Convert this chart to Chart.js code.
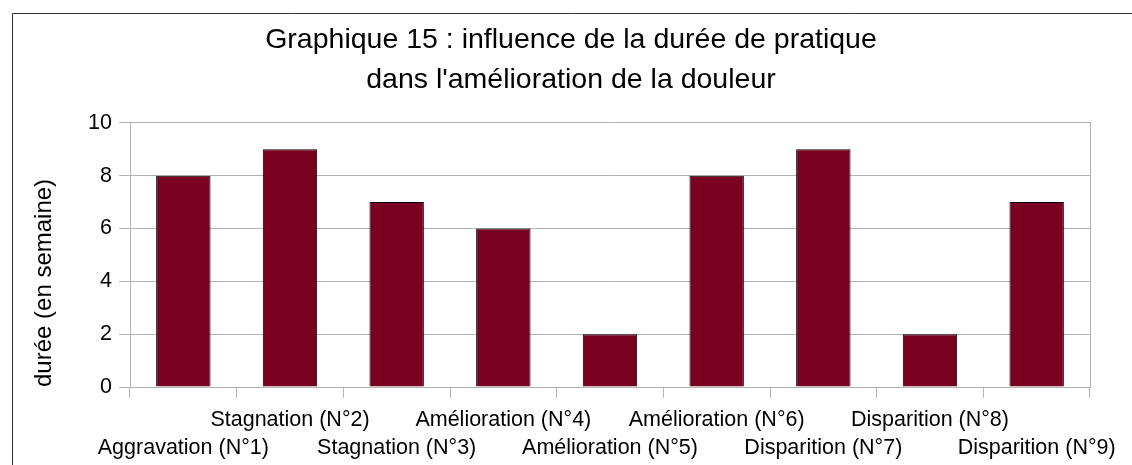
<!DOCTYPE html>
<html>
<head>
<meta charset="utf-8">
<script src="https://cdn.jsdelivr.net/npm/chart.js@4/dist/chart.umd.min.js"></script>
<style>
  html, body { margin: 0; padding: 0; background: #fff; overflow: hidden; }
  canvas { display: block; }
</style>
</head>
<body>
<canvas id="c" width="1132" height="465"></canvas>
<script>
const titleLines = ["Graphique 15 : influence de la durée de pratique", "dans l'amélioration de la douleur"];
const yAxisTitle = "durée (en semaine)";
const categories = ["Aggravation (N°1)", "Stagnation (N°2)", "Stagnation (N°3)", "Amélioration (N°4)", "Amélioration (N°5)", "Amélioration (N°6)", "Disparition (N°7)", "Disparition (N°8)", "Disparition (N°9)"];
const durations = [8, 9, 7, 6, 2, 8, 9, 2, 7];
const yMin = 0, yMax = 10, yStep = 2;

const FONT = "'Liberation Sans', Arial, sans-serif";
const GRID = '#b3b3b3';

Chart.defaults.font.family = FONT;
Chart.defaults.color = '#000';

const framePlugin = {
  id: 'frame',
  beforeDraw(chart) {
    const ctx = chart.ctx;
    ctx.save();
    ctx.fillStyle = '#fff';
    ctx.fillRect(0, 0, chart.width, chart.height);
    ctx.strokeStyle = '#333';
    ctx.lineWidth = 1;
    ctx.beginPath();
    ctx.moveTo(12.5, chart.height);
    ctx.lineTo(12.5, 13.5);
    ctx.lineTo(chart.width, 13.5);
    ctx.stroke();
    ctx.restore();
  }
};

new Chart(document.getElementById('c'), {
  type: 'bar',
  data: {
    labels: categories,
    datasets: [{
      data: durations,
      backgroundColor: '#7a0021',
      borderColor: '#000',
      borderWidth: 1,
      barPercentage: 0.51,
      categoryPercentage: 1.0
    }]
  },
  plugins: [framePlugin],
  options: {
    responsive: false,
    animation: false,
    layout: { padding: { left: 10, right: 0, top: 0, bottom: 0 } },
    plugins: {
      legend: { display: false },
      tooltip: { enabled: false },
      title: {
        display: true,
        text: titleLines,
        color: '#000',
        font: { family: FONT, size: 28.5, weight: 'normal', lineHeight: 1.4 },
        padding: { top: 20, bottom: 23 }
      }
    },
    scales: {
      x: {
        offset: true,
        grid: { offset: true, drawOnChartArea: false, drawTicks: true, tickLength: 11, tickColor: GRID, color: GRID },
        border: { display: true, color: GRID },
        ticks: {
          autoSkip: false, maxRotation: 0, minRotation: 0, padding: 9,
          color: '#000',
          font: { family: FONT, size: 21.5, lineHeight: 1.26 },
          callback: function(v, i) { const l = categories[i]; return i % 2 === 0 ? ['', l] : [l, '']; }
        },
        afterFit: function(s) { s.height = 78; }
      },
      y: {
        min: yMin, max: yMax,
        ticks: { stepSize: yStep, padding: 7, color: '#000', font: { family: FONT, size: 21.5 } },
        grid: { color: GRID, tickColor: GRID, tickLength: 11 },
        border: { display: true, color: GRID },
        title: { display: true, text: yAxisTitle, align: 'start', color: '#000', font: { family: FONT, size: 24, lineHeight: 1.2 }, padding: { top: 20, bottom: 0 } },
        afterFit: function(s) { s.width = 120; }
      },
      y2: {
        position: 'right',
        min: yMin, max: yMax,
        ticks: { display: false },
        grid: { drawOnChartArea: false, drawTicks: false },
        border: { display: true, color: GRID },
        afterFit: function(s) { s.width = 42; }
      }
    }
  }
});
</script>
</body>
</html>
